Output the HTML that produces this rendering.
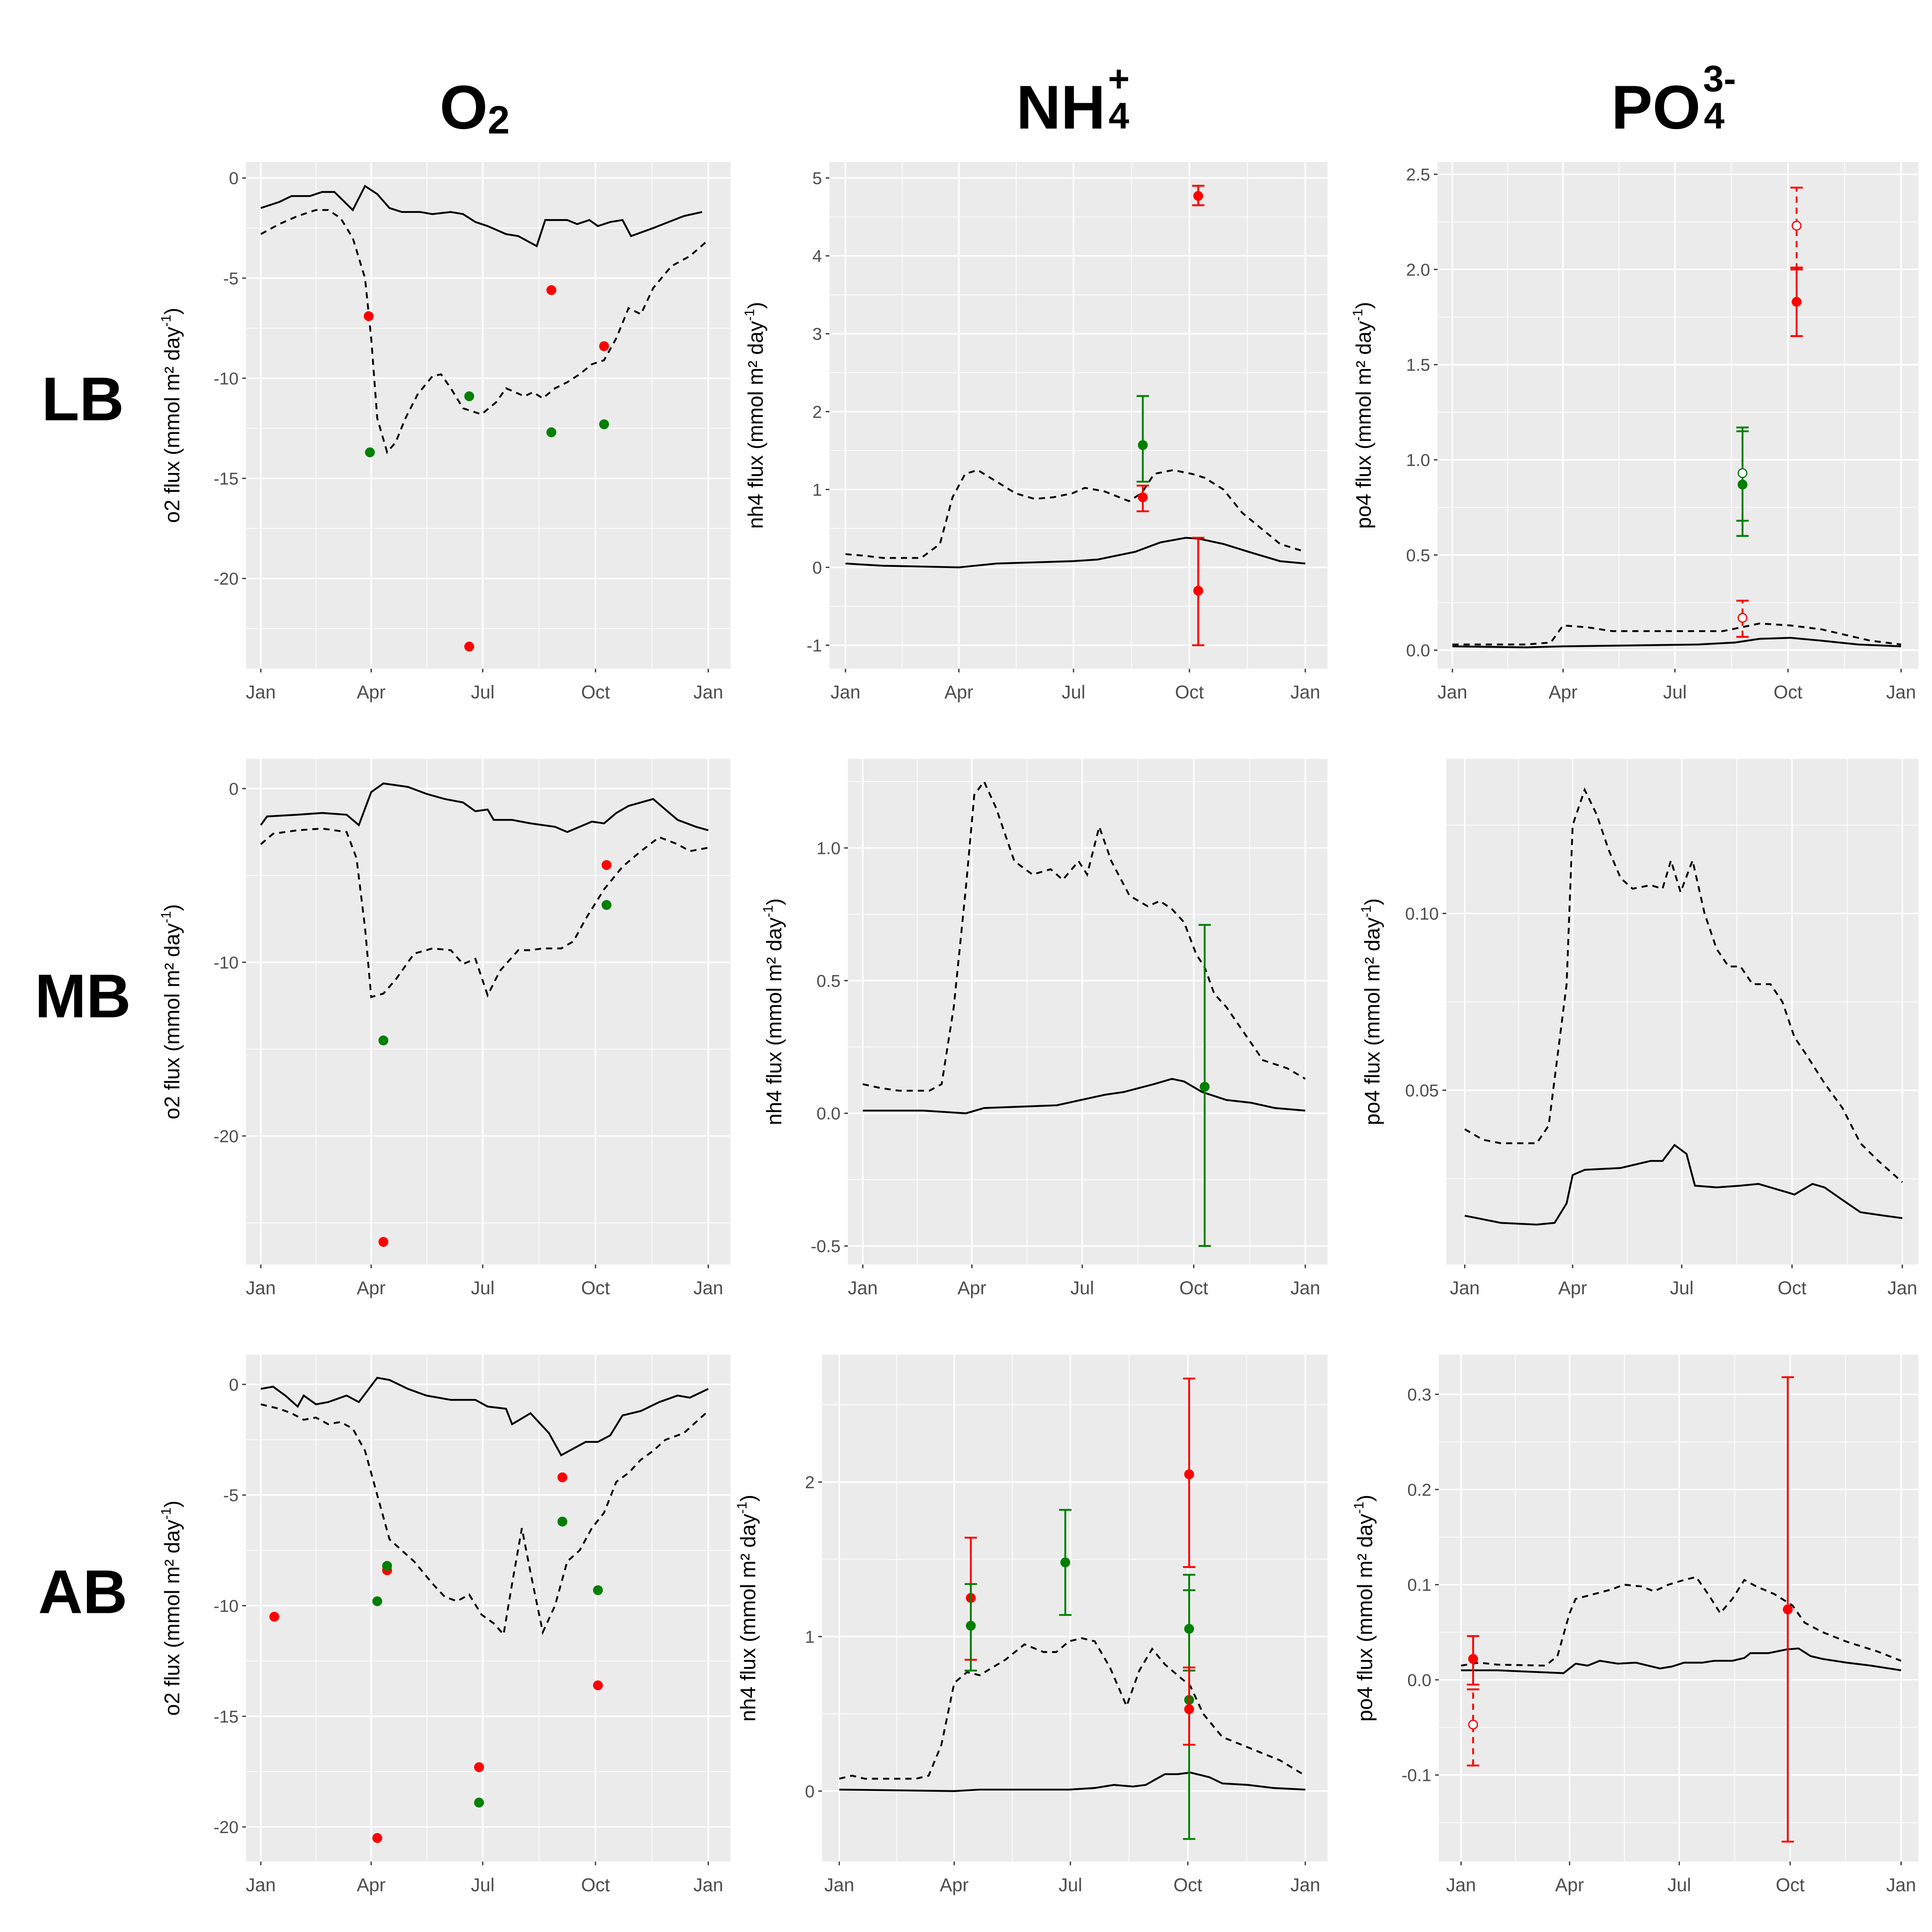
<!DOCTYPE html>
<html><head><meta charset="utf-8"><style>
html,body{margin:0;padding:0;background:#fff;overflow:hidden;width:100%;height:100%;}
svg{display:block;position:fixed;left:0;top:0;width:100vw;height:100vh;}
text{font-family:"Liberation Sans",Arial,sans-serif;}
</style></head><body>
<svg id="chart" viewBox="0 0 1563 1563" preserveAspectRatio="xMinYMin meet" xmlns="http://www.w3.org/2000/svg">
<g>
<text x="384" y="104" font-size="50" font-weight="bold" text-anchor="middle">O<tspan font-size="32" dy="4">2</tspan></text>
<text x="868" y="104" font-size="50" font-weight="bold" text-anchor="middle">NH<tspan font-size="30" dx="2" dy="-30">+</tspan><tspan font-size="30" dx="-17" dy="30">4</tspan></text>
<text x="1354" y="104" font-size="50" font-weight="bold" text-anchor="middle">PO<tspan font-size="30" dx="2" dy="-30">3-</tspan><tspan font-size="30" dx="-26" dy="30">4</tspan></text>
</g>
<g>
<text x="67" y="340" font-size="50" font-weight="bold" text-anchor="middle">LB</text>
<text x="67" y="823" font-size="50" font-weight="bold" text-anchor="middle">MB</text>
<text x="67" y="1305" font-size="50" font-weight="bold" text-anchor="middle">AB</text>
</g>
</svg>
<script>
const monthLabels=["Jan","Apr","Jul","Oct","Jan"];
const monthDays=[0,90,181,273,365];
// Row 1
const lbO2Solid=[[0,-1.5],[15,-1.2],[25,-0.9],[40,-0.9],[50,-0.7],[60,-0.7],[75,-1.6],[85,-0.4],[95,-0.8],[105,-1.5],[115,-1.7],[130,-1.7],[140,-1.8],[155,-1.7],[165,-1.8],[175,-2.2],[185,-2.4],[200,-2.8],[210,-2.9],[225,-3.4],[232,-2.1],[250,-2.1],[258,-2.3],[268,-2.1],[275,-2.4],[285,-2.2],[295,-2.1],[302,-2.9],[320,-2.5],[345,-1.9],[360,-1.7]];
const lbO2Dash=[[0,-2.8],[15,-2.3],[30,-1.9],[45,-1.6],[55,-1.6],[65,-2.0],[75,-3.0],[85,-5.0],[90,-8.0],[95,-12.0],[103,-13.7],[110,-13.2],[118,-12.0],[128,-10.8],[140,-9.9],[147,-9.8],[155,-10.5],[165,-11.5],[180,-11.8],[192,-11.2],[200,-10.5],[215,-10.9],[222,-10.7],[230,-11.0],[240,-10.5],[250,-10.2],[260,-9.8],[270,-9.3],[280,-9.1],[290,-8.0],[300,-6.5],[310,-6.8],[320,-5.5],[335,-4.4],[350,-3.9],[365,-3.1]];
const lbO2Red=[[88,-6.9],[170,-23.4],[237,-5.6],[280,-8.4]];
const lbO2Green=[[89,-13.7],[170,-10.9],[237,-12.7],[280,-12.3]];
const lbNh4Solid=[[0,0.05],[30,0.02],[90,0.0],[120,0.05],[180,0.08],[200,0.1],[230,0.2],[250,0.32],[270,0.38],[280,0.37],[300,0.3],[320,0.2],[345,0.08],[365,0.05]];
const lbNh4Dash=[[0,0.17],[15,0.15],[30,0.12],[60,0.12],[75,0.3],[85,0.9],[95,1.2],[105,1.25],[120,1.1],[135,0.95],[150,0.88],[165,0.9],[180,0.95],[190,1.02],[205,0.98],[225,0.85],[235,0.95],[245,1.2],[260,1.25],[275,1.2],[285,1.15],[300,1.0],[315,0.7],[330,0.5],[345,0.3],[365,0.2]];
const lbNh4Err=[[236,1.57,1.1,2.2,"g",0],[236,0.9,0.72,1.05,"r",0],[280,4.77,4.65,4.9,"r",0],[280,-0.3,-1.0,0.38,"r",0]];
const lbPo4Solid=[[0,0.02],[60,0.015],[90,0.02],[150,0.025],[200,0.03],[230,0.04],[250,0.06],[275,0.065],[300,0.05],[330,0.03],[365,0.02]];
const lbPo4Dash=[[0,0.03],[60,0.03],[80,0.04],[90,0.13],[110,0.12],[130,0.1],[170,0.1],[220,0.1],[250,0.14],[275,0.13],[300,0.11],[320,0.08],[340,0.05],[365,0.03]];
const lbPo4Err=[[236,0.87,0.6,1.15,"g",0],[236,0.93,0.68,1.17,"g",1],[236,0.17,0.07,0.26,"r",1],[280,1.83,1.65,2.01,"r",0],[280,2.23,2.0,2.43,"r",1]];
// Row 2
const mbO2Solid=[[0,-2.1],[5,-1.6],[30,-1.5],[50,-1.4],[70,-1.5],[80,-2.1],[90,-0.2],[100,0.3],[120,0.1],[135,-0.3],[150,-0.6],[165,-0.8],[175,-1.3],[185,-1.2],[190,-1.8],[205,-1.8],[220,-2.0],[240,-2.2],[250,-2.5],[260,-2.2],[270,-1.9],[280,-2.0],[290,-1.4],[300,-1.0],[320,-0.6],[330,-1.2],[340,-1.8],[355,-2.2],[365,-2.4]];
const mbO2Dash=[[0,-3.2],[10,-2.6],[30,-2.4],[50,-2.3],[70,-2.5],[78,-4.0],[85,-8.0],[90,-12.0],[100,-11.8],[110,-11.0],[125,-9.5],[140,-9.2],[155,-9.3],[165,-10.1],[175,-9.8],[185,-11.9],[195,-10.5],[210,-9.3],[220,-9.3],[230,-9.2],[245,-9.2],[255,-8.8],[265,-7.5],[280,-5.8],[295,-4.5],[310,-3.6],[325,-2.8],[340,-3.2],[350,-3.6],[365,-3.4]];
const mbO2Red=[[100,-26.1],[282,-4.4]];
const mbO2Green=[[100,-14.5],[282,-6.7]];
const mbNh4Solid=[[0,0.01],[50,0.01],[85,0.0],[100,0.02],[130,0.025],[160,0.03],[180,0.05],[200,0.07],[215,0.08],[240,0.11],[255,0.13],[265,0.12],[280,0.08],[300,0.05],[320,0.04],[340,0.02],[365,0.01]];
const mbNh4Dash=[[0,0.11],[15,0.095],[30,0.085],[55,0.085],[65,0.11],[75,0.4],[85,0.85],[92,1.2],[100,1.25],[110,1.15],[125,0.95],[140,0.9],[155,0.92],[165,0.88],[178,0.95],[185,0.9],[195,1.08],[205,0.95],[220,0.82],[235,0.78],[245,0.8],[255,0.77],[265,0.72],[275,0.6],[282,0.55],[290,0.45],[300,0.4],[315,0.3],[330,0.2],[350,0.17],[365,0.13]];
const mbNh4Err=[[282,0.1,-0.5,0.71,"g",0]];
const mbPo4Solid=[[0,0.0145],[30,0.0125],[60,0.012],[75,0.0125],[85,0.018],[90,0.026],[100,0.0275],[130,0.028],[155,0.03],[165,0.03],[175,0.0345],[185,0.032],[192,0.023],[210,0.0225],[230,0.023],[245,0.0235],[270,0.021],[275,0.0205],[290,0.0235],[300,0.0225],[315,0.019],[330,0.0155],[350,0.0145],[365,0.0138]];
const mbPo4Dash=[[0,0.039],[15,0.036],[30,0.035],[60,0.035],[70,0.04],[85,0.08],[90,0.125],[100,0.135],[110,0.128],[120,0.118],[130,0.11],[140,0.107],[155,0.108],[165,0.107],[172,0.115],[180,0.106],[190,0.115],[200,0.1],[210,0.09],[220,0.085],[230,0.085],[240,0.08],[255,0.08],[265,0.075],[275,0.065],[285,0.06],[300,0.052],[315,0.045],[330,0.035],[345,0.03],[365,0.024]];
// Row 3
const abO2Solid=[[0,-0.2],[10,-0.1],[20,-0.5],[30,-1.0],[35,-0.5],[45,-0.9],[55,-0.8],[70,-0.5],[80,-0.8],[95,0.3],[105,0.2],[120,-0.2],[135,-0.5],[155,-0.7],[175,-0.7],[185,-1.0],[200,-1.1],[205,-1.8],[220,-1.3],[235,-2.2],[245,-3.2],[255,-2.9],[265,-2.6],[275,-2.6],[285,-2.3],[295,-1.4],[310,-1.2],[325,-0.8],[340,-0.5],[350,-0.6],[365,-0.2]];
const abO2Dash=[[0,-0.9],[15,-1.1],[25,-1.3],[35,-1.6],[45,-1.5],[55,-1.8],[65,-1.7],[75,-2.0],[85,-3.0],[95,-5.0],[105,-7.0],[115,-7.5],[125,-8.0],[140,-9.0],[150,-9.6],[160,-9.8],[170,-9.5],[180,-10.4],[190,-10.8],[198,-11.3],[205,-9.0],[213,-6.5],[220,-8.5],[230,-11.2],[240,-10.0],[250,-8.0],[260,-7.5],[270,-6.5],[280,-5.8],[290,-4.4],[300,-4.0],[310,-3.4],[320,-3.0],[330,-2.5],[345,-2.2],[355,-1.7],[365,-1.2]];
const abO2Red=[[11,-10.5],[95,-20.5],[103,-8.4],[178,-17.3],[246,-4.2],[275,-13.6]];
const abO2Green=[[95,-9.8],[103,-8.2],[178,-18.9],[246,-6.2],[275,-9.3]];
const abNh4Solid=[[0,0.01],[90,0.0],[110,0.01],[180,0.01],[200,0.02],[215,0.04],[230,0.03],[240,0.04],[255,0.11],[265,0.11],[275,0.12],[290,0.09],[300,0.05],[320,0.04],[340,0.02],[365,0.01]];
const abNh4Dash=[[0,0.08],[10,0.1],[20,0.08],[60,0.08],[70,0.1],[80,0.3],[90,0.7],[100,0.77],[110,0.75],[120,0.8],[130,0.85],[145,0.95],[160,0.9],[170,0.9],[180,0.97],[190,0.99],[200,0.97],[212,0.8],[225,0.55],[235,0.78],[245,0.92],[255,0.82],[265,0.75],[275,0.68],[285,0.5],[300,0.35],[315,0.3],[330,0.25],[345,0.2],[365,0.1]];
const abNh4Err=[[103,1.25,0.85,1.64,"r",0],[103,1.07,0.78,1.34,"g",0],[177,1.48,1.14,1.82,"g",0],[274,2.05,1.45,2.67,"r",0],[274,1.05,0.78,1.3,"g",0],[274,0.59,-0.31,1.4,"g",0],[274,0.53,0.3,0.8,"r",0]];
const abPo4Solid=[[0,0.01],[30,0.01],[85,0.007],[95,0.017],[105,0.015],[115,0.02],[130,0.017],[145,0.018],[165,0.012],[175,0.014],[185,0.018],[200,0.018],[210,0.02],[225,0.02],[235,0.023],[240,0.028],[255,0.028],[270,0.032],[280,0.033],[290,0.025],[300,0.022],[320,0.018],[340,0.015],[365,0.01]];
const abPo4Dash=[[0,0.015],[15,0.018],[30,0.016],[70,0.015],[80,0.025],[90,0.07],[95,0.085],[110,0.09],[125,0.095],[135,0.1],[150,0.098],[160,0.093],[172,0.1],[185,0.105],[195,0.108],[205,0.09],[215,0.07],[225,0.085],[235,0.105],[245,0.098],[260,0.09],[275,0.078],[285,0.06],[300,0.05],[320,0.04],[345,0.03],[365,0.02]];
const abPo4Err=[[10,0.022,-0.005,0.046,"r",0],[10,-0.047,-0.09,-0.01,"r",1],[271,0.074,-0.17,0.318,"r",0]];

const o2Ticks1=[0,-5,-10,-15,-20], nh4Ticks1=[5,4,3,2,1,0,-1], po4Ticks1=[2.5,2.0,1.5,1.0,0.5,0.0];
const o2Ticks2=[0,-10,-20], nh4Ticks2=[1.0,0.5,0.0,-0.5], po4Ticks2=[0.10,0.05];
const o2Ticks3=[0,-5,-10,-15,-20], nh4Ticks3=[2,1,0], po4Ticks3=[0.3,0.2,0.1,0.0,-0.1];

const svg=document.getElementById('chart');
const NS="http://www.w3.org/2000/svg";
function mk(tag,attrs,parent){const e=document.createElementNS(NS,tag);for(const k in attrs)e.setAttribute(k,attrs[k]);parent.appendChild(e);return e;}
const RED="#FF0000",GREEN="#008000";

function panel(cfg){
  const g=mk('g',{},svg);
  
  
  const xs=d=>cfg.jan0+(cfg.jan1-cfg.jan0)*d/365;
  const ys=v=>cfg.py0+(v-cfg.v0)*(cfg.py1-cfg.py0)/(cfg.v1-cfg.v0);
  const bg=mk('rect',{x:cfg.l,y:cfg.t,width:cfg.r-cfg.l,height:cfg.b-cfg.t,fill:'#EBEBEB'},g);
  
  
  const ticks=cfg.ticks;
  const step=ticks[0]-ticks[1];
  const tmin=Math.min(...ticks)-step*3, tmax=Math.max(...ticks)+step*3;
  for(let v=tmin;v<=tmax+1e-9;v+=step){
    const yy=ys(v+step/2); if(yy>cfg.t&&yy<cfg.b) mk('line',{x1:cfg.l,x2:cfg.r,y1:yy,y2:yy,stroke:'#fff','stroke-width':0.6},g);
  }
  for(let i=0;i<monthDays.length-1;i++){const xx=xs((monthDays[i]+monthDays[i+1])/2);mk('line',{x1:xx,x2:xx,y1:cfg.t,y2:cfg.b,stroke:'#fff','stroke-width':0.6},g);}
  for(let v=tmin;v<=tmax+1e-9;v+=step){const yy=ys(v);if(yy>cfg.t&&yy<cfg.b&&!ticks.some(t=>Math.abs(t-v)<1e-9))mk('line',{x1:cfg.l,x2:cfg.r,y1:yy,y2:yy,stroke:'#fff','stroke-width':1.2},g);}
  ticks.forEach(v=>{const yy=ys(v);mk('line',{x1:cfg.l,x2:cfg.r,y1:yy,y2:yy,stroke:'#fff','stroke-width':1.2},g);
    mk('line',{x1:cfg.l-3,x2:cfg.l,y1:yy,y2:yy,stroke:'#333','stroke-width':1},g);
    const tx=mk('text',{x:cfg.l-6,y:yy+5,'font-size':14,fill:'#4D4D4D','text-anchor':'end'},g);
    
    
    tx.textContent=cfg.fmt(v);});
  monthDays.forEach((d,i)=>{const xx=xs(d);mk('line',{x1:xx,x2:xx,y1:cfg.t,y2:cfg.b,stroke:'#fff','stroke-width':1.2},g);
    mk('line',{x1:xx,x2:xx,y1:cfg.b,y2:cfg.b+3,stroke:'#333','stroke-width':1},g);
    const tx=mk('text',{x:xx,y:cfg.b+24,'font-size':15,fill:'#4D4D4D','text-anchor':'middle'},g);
    
    
    tx.textContent=monthLabels[i];});
  const cx=cfg.l-54, cy=(cfg.t+cfg.b)/2;
  const at=mk('text',{x:cx,y:cy,'font-size':17,fill:'#000','text-anchor':'middle',transform:`rotate(-90 ${cx} ${cy})`},g);
  
  
  at.innerHTML=cfg.ylab+' flux (mmol m² day<tspan font-size="11" dy="-7">-1</tspan><tspan dy="7">)</tspan>';
  const pth=(arr)=>arr.map((p,i)=>(i?'L':'M')+xs(p[0]).toFixed(1)+','+ys(p[1]).toFixed(1)).join('');
  const sl=mk('path',{d:pth(cfg.solid),fill:'none',stroke:'#000','stroke-width':1.5},g);
  
  
  const dl=mk('path',{d:pth(cfg.dash),fill:'none',stroke:'#000','stroke-width':1.5,'stroke-dasharray':'5,4'},g);
  
  
  (cfg.red||[]).forEach(p=>{const c=mk('circle',{cx:xs(p[0]),cy:ys(p[1]),r:4,fill:RED},g);
    
    });
  (cfg.green||[]).forEach(p=>{const c=mk('circle',{cx:xs(p[0]),cy:ys(p[1]),r:4,fill:GREEN},g);
    
    });
  (cfg.err||[]).forEach(e=>{const col=e[4]==='r'?RED:GREEN;const x=xs(e[0]);const open=e[5]===1;
    const eg=mk('g',{stroke:col,'stroke-width':1.5},g);
    
    
    const da=open?{'stroke-dasharray':'5,4'}:{};
    mk('line',Object.assign({x1:x,x2:x,y1:ys(e[2]),y2:ys(e[3])},da),eg);
    mk('line',{x1:x-5,x2:x+5,y1:ys(e[2]),y2:ys(e[2])},eg);
    mk('line',{x1:x-5,x2:x+5,y1:ys(e[3]),y2:ys(e[3])},eg);
    if(open) mk('circle',{cx:x,cy:ys(e[1]),r:3.5,fill:'#fff',stroke:col,'stroke-width':1},eg);
    else mk('circle',{cx:x,cy:ys(e[1]),r:4,fill:col,stroke:'none'},eg);});
}
const f0=v=>String(v), f1=v=>v.toFixed(1), f2=v=>v.toFixed(2);
panel({name:'panel-lb-o2',l:199,r:591,t:131,b:541,jan0:211,jan1:573,v0:0,py0:144,v1:-20,py1:468,ticks:o2Ticks1,fmt:f0,ylab:'o2',solid:lbO2Solid,dash:lbO2Dash,red:lbO2Red,green:lbO2Green});
panel({name:'panel-lb-nh4',l:671,r:1074,t:131,b:541,jan0:684,jan1:1056,v0:5,py0:144,v1:-1,py1:522,ticks:nh4Ticks1,fmt:f0,ylab:'nh4',solid:lbNh4Solid,dash:lbNh4Dash,err:lbNh4Err});
panel({name:'panel-lb-po4',l:1163,r:1552,t:131,b:541,jan0:1175,jan1:1538,v0:2.5,py0:141,v1:0,py1:526,ticks:po4Ticks1,fmt:f1,ylab:'po4',solid:lbPo4Solid,dash:lbPo4Dash,err:lbPo4Err});
panel({name:'panel-mb-o2',l:199,r:591,t:614,b:1023,jan0:211,jan1:573,v0:0,py0:638,v1:-20,py1:919,ticks:o2Ticks2,fmt:f0,ylab:'o2',solid:mbO2Solid,dash:mbO2Dash,red:mbO2Red,green:mbO2Green});
panel({name:'panel-mb-nh4',l:686,r:1074,t:614,b:1023,jan0:698,jan1:1056,v0:1,py0:686,v1:-0.5,py1:1008,ticks:nh4Ticks2,fmt:f1,ylab:'nh4',solid:mbNh4Solid,dash:mbNh4Dash,err:mbNh4Err});
panel({name:'panel-mb-po4',l:1170,r:1552,t:614,b:1023,jan0:1185,jan1:1539,v0:0.10,py0:739,v1:0.05,py1:882,ticks:po4Ticks2,fmt:f2,ylab:'po4',solid:mbPo4Solid,dash:mbPo4Dash});
panel({name:'panel-ab-o2',l:199,r:591,t:1096,b:1506,jan0:211,jan1:573,v0:0,py0:1120,v1:-20,py1:1478,ticks:o2Ticks3,fmt:f0,ylab:'o2',solid:abO2Solid,dash:abO2Dash,red:abO2Red,green:abO2Green});
panel({name:'panel-ab-nh4',l:665,r:1074,t:1096,b:1506,jan0:679,jan1:1056,v0:2,py0:1199,v1:0,py1:1449,ticks:nh4Ticks3,fmt:f0,ylab:'nh4',solid:abNh4Solid,dash:abNh4Dash,err:abNh4Err});
panel({name:'panel-ab-po4',l:1164,r:1552,t:1096,b:1506,jan0:1182,jan1:1538,v0:0.3,py0:1128,v1:-0.1,py1:1436,ticks:po4Ticks3,fmt:f1,ylab:'po4',solid:abPo4Solid,dash:abPo4Dash,err:abPo4Err});
</script>
</body></html>
